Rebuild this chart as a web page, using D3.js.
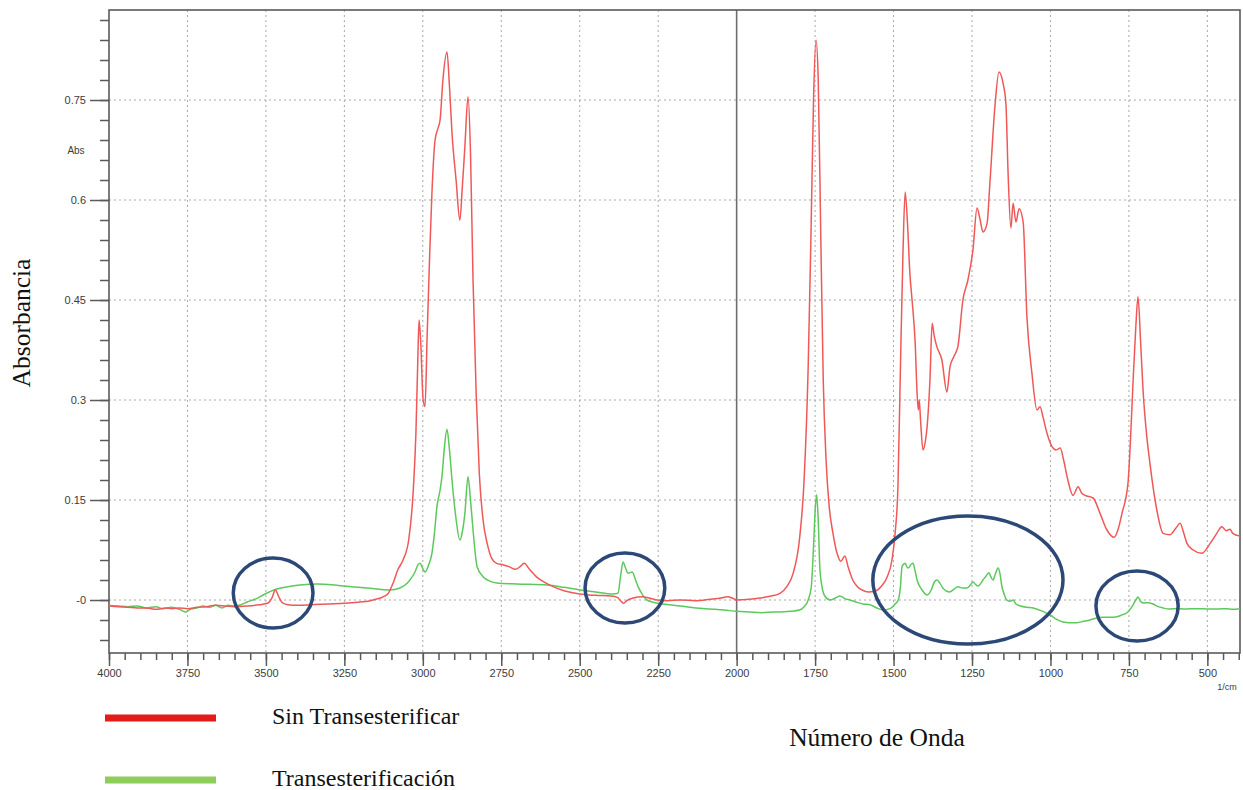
<!DOCTYPE html>
<html>
<head>
<meta charset="utf-8">
<script src="https://cdn.jsdelivr.net/npm/d3@7"></script>
<style>
  html, body { margin: 0; padding: 0; background: #ffffff; }
  svg { display: block; }
</style>
</head>
<body>
<svg id="chart" width="1243" height="790"></svg>
<script>
// ---------------- DATA ----------------
const seriesNames = ["Sin Transesterificar", "Transesterificación"];

// [wavenumber (1/cm), absorbance]
const sinTransesterificar = [
  [4000,-0.009],[3970,-0.010],[3940,-0.011],[3910,-0.012],[3880,-0.012],[3850,-0.014],[3820,-0.012],
  [3800,-0.013],[3775,-0.012],[3750,-0.013],[3720,-0.011],[3690,-0.010],[3660,-0.008],[3630,-0.009],
  [3600,-0.010],[3560,-0.009],[3520,-0.007],[3495,-0.005],[3480,0.004],[3470,0.015],[3460,0.006],
  [3448,-0.004],[3430,-0.007],[3400,-0.008],[3350,-0.007],[3300,-0.006],[3250,-0.005],[3200,-0.003],
  [3175,-0.002],[3150,0.001],[3125,0.005],[3110,0.010],[3095,0.025],[3080,0.045],[3063,0.06],
  [3045,0.09],[3031,0.16],[3022,0.25],[3016,0.36],[3012,0.42],[3007,0.39],[2999,0.30],[2993,0.29],
  [2986,0.40],[2978,0.52],[2971,0.61],[2961,0.69],[2950,0.71],[2945,0.72],[2936,0.78],[2923,0.822],
  [2915,0.77],[2907,0.70],[2894,0.63],[2882,0.57],[2874,0.62],[2866,0.68],[2856,0.755],[2848,0.67],
  [2840,0.48],[2830,0.31],[2820,0.19],[2808,0.12],[2795,0.085],[2780,0.062],[2765,0.055],[2745,0.053],
  [2725,0.05],[2705,0.046],[2690,0.05],[2677,0.055],[2660,0.046],[2636,0.034],[2610,0.026],[2585,0.02],
  [2550,0.014],[2500,0.009],[2450,0.007],[2400,0.006],[2380,0.004],[2368,-0.002],[2360,-0.005],
  [2350,-0.001],[2330,0.003],[2300,0.005],[2280,0.003],[2254,0.0],[2220,-0.001],[2180,0.0],
  [2130,-0.001],[2085,0.001],[2050,0.003],[2030,0.005],[2010,0.002],[2000,0.0],[1960,0.001],
  [1925,0.003],[1890,0.006],[1862,0.01],[1840,0.02],[1820,0.04],[1800,0.09],[1785,0.18],[1772,0.35],
  [1763,0.55],[1755,0.75],[1747,0.84],[1740,0.78],[1732,0.55],[1724,0.33],[1715,0.21],[1705,0.14],
  [1693,0.10],[1680,0.07],[1668,0.058],[1655,0.066],[1645,0.05],[1630,0.03],[1615,0.02],[1600,0.015],
  [1580,0.012],[1560,0.013],[1540,0.02],[1520,0.035],[1505,0.06],[1495,0.10],[1486,0.17],[1478,0.35],
  [1470,0.52],[1463,0.612],[1455,0.56],[1448,0.49],[1441,0.45],[1431,0.385],[1425,0.31],[1421,0.285],
  [1418,0.30],[1414,0.27],[1406,0.225],[1398,0.24],[1393,0.26],[1384,0.33],[1377,0.415],[1370,0.395],
  [1362,0.38],[1346,0.36],[1330,0.312],[1320,0.35],[1308,0.365],[1295,0.38],[1279,0.45],[1263,0.48],
  [1247,0.525],[1234,0.588],[1224,0.57],[1215,0.552],[1202,0.565],[1193,0.625],[1177,0.74],[1164,0.792],
  [1151,0.775],[1142,0.745],[1135,0.64],[1126,0.558],[1119,0.595],[1110,0.567],[1100,0.587],[1087,0.567],
  [1075,0.425],[1059,0.34],[1043,0.285],[1033,0.29],[1024,0.275],[1011,0.25],[995,0.23],[982,0.225],
  [969,0.228],[958,0.21],[947,0.185],[928,0.157],[912,0.17],[900,0.16],[890,0.157],[864,0.153],
  [842,0.13],[820,0.105],[797,0.094],[785,0.105],[772,0.13],[753,0.175],[745,0.24],[737,0.325],
  [728,0.41],[721,0.455],[713,0.39],[705,0.315],[694,0.25],[683,0.205],[661,0.135],[641,0.1],
  [619,0.098],[600,0.108],[587,0.115],[575,0.1],[565,0.085],[545,0.075],[518,0.07],[491,0.085],
  [470,0.1],[454,0.11],[440,0.104],[428,0.106],[419,0.1],[396,0.096]
];

const transesterificacion = [
  [4000,-0.008],[3970,-0.009],[3940,-0.010],[3910,-0.009],[3880,-0.012],[3850,-0.010],[3830,-0.013],
  [3800,-0.011],[3775,-0.014],[3755,-0.018],[3745,-0.015],[3720,-0.012],[3700,-0.009],[3680,-0.011],
  [3660,-0.008],[3640,-0.012],[3620,-0.008],[3600,-0.009],[3580,-0.007],[3560,-0.003],[3530,0.002],
  [3509,0.0075],[3465,0.0165],[3430,0.02],[3391,0.0225],[3337,0.024],[3290,0.023],[3254,0.021],
  [3178,0.018],[3105,0.015],[3073,0.018],[3050,0.025],[3041,0.03],[3025,0.042],[3015,0.053],
  [3009,0.055],[2999,0.046],[2993,0.042],[2982,0.052],[2971,0.07],[2963,0.10],[2955,0.14],[2945,0.165],
  [2939,0.185],[2931,0.23],[2923,0.256],[2915,0.225],[2907,0.18],[2895,0.125],[2882,0.09],[2873,0.105],
  [2866,0.13],[2856,0.185],[2848,0.15],[2840,0.105],[2827,0.05],[2808,0.035],[2785,0.028],[2764,0.0255],
  [2700,0.024],[2604,0.0225],[2550,0.019],[2499,0.015],[2450,0.012],[2394,0.009],[2378,0.010],
  [2370,0.035],[2362,0.057],[2354,0.048],[2346,0.04],[2333,0.042],[2322,0.03],[2314,0.02],[2300,0.008],
  [2286,0.0],[2260,-0.004],[2235,-0.006],[2180,-0.009],[2130,-0.012],[2085,-0.0135],[2040,-0.015],
  [2000,-0.017],[1960,-0.018],[1920,-0.019],[1880,-0.018],[1862,-0.018],[1830,-0.017],[1800,-0.015],
  [1785,-0.01],[1772,0.0],[1762,0.02],[1755,0.08],[1749,0.14],[1745,0.158],[1740,0.12],[1735,0.05],
  [1728,0.02],[1719,0.006],[1702,0.0],[1685,0.003],[1671,0.006],[1655,0.002],[1639,0.0],[1620,-0.003],
  [1597,-0.006],[1575,-0.007],[1553,-0.012],[1533,-0.015],[1511,-0.013],[1495,-0.006],[1485,0.0],
  [1478,0.02],[1473,0.05],[1463,0.055],[1458,0.05],[1453,0.048],[1443,0.054],[1438,0.055],[1432,0.045],
  [1425,0.03],[1409,0.015],[1393,0.0075],[1380,0.015],[1370,0.027],[1362,0.03],[1352,0.025],[1343,0.018],
  [1321,0.012],[1308,0.016],[1295,0.02],[1280,0.018],[1266,0.018],[1256,0.022],[1247,0.027],[1240,0.024],
  [1231,0.021],[1215,0.03],[1205,0.036],[1196,0.041],[1190,0.035],[1183,0.03],[1175,0.04],[1167,0.048],
  [1161,0.04],[1155,0.021],[1147,0.008],[1139,0.0],[1129,-0.002],[1119,0.0],[1110,-0.006],[1095,-0.009],
  [1075,-0.011],[1055,-0.012],[1030,-0.016],[1001,-0.0225],[980,-0.029],[960,-0.033],[940,-0.034],
  [916,-0.034],[895,-0.032],[874,-0.03],[853,-0.027],[833,-0.026],[810,-0.026],[788,-0.025],[770,-0.022],
  [757,-0.0195],[740,-0.01],[728,0.0],[721,0.0045],[713,-0.002],[705,-0.0045],[690,-0.004],[673,-0.006],
  [657,-0.01],[641,-0.012],[620,-0.0135],[600,-0.013],[570,-0.0135],[540,-0.013],[523,-0.013],
  [500,-0.0135],[470,-0.0135],[440,-0.013],[420,-0.014],[396,-0.013]
];

// axis ticks
const xMajorTicks = [4000,3750,3500,3250,3000,2750,2500,2250,2000,1750,1500,1250,1000,750,500];
const xTickLabels = ["4000","3750","3500","3250","3000","2750","2500","2250","2000","1750","1500","1250","1000","750","500"];
const yMajorTicks = [0.75,0.6,0.45,0.3,0.15,0];
const yTickLabels = ["0.75","0.6","0.45","0.3","0.15","-0"];

// highlighted regions: [center wavenumber, center absorbance, half-width (1/cm), half-height (abs)]
const highlightRegions = [
  [3477, 0.0105, 127, 0.0525],
  [2356, 0.018, 127, 0.0525],
  [1263, 0.030, 303, 0.096],
  [724, -0.009, 131, 0.0525]
];

// ---------------- CHART ----------------
const svg = d3.select("#chart");
const plot = {left: 109, top: 10, right: 1240, bottom: 653};

const x = d3.scaleLinear().domain([4000, 396]).range([plot.left, plot.right]);
const y = d3.scaleLinear().domain([-0.0795, 0.885]).range([plot.bottom, plot.top]);

const colors = {
  red: "#f05858",
  green: "#5cc95c",
  legendRed: "#e41b1b",
  legendGreen: "#8fcd5a",
  ellipse: "#2c4876",
  axis: "#5a5a5a",
  grid: "#a8a8a8",
  tickText: "#3c3c3c"
};

// gridlines
const g = svg.append("g");
g.selectAll(".vgrid").data(xMajorTicks.filter(d => d !== 4000 && d !== 2000)).enter()
  .append("line")
  .attr("x1", d => x(d)).attr("x2", d => x(d))
  .attr("y1", plot.top).attr("y2", plot.bottom)
  .attr("stroke", colors.grid).attr("stroke-width", 1)
  .attr("stroke-dasharray", "2,3");
g.selectAll(".hgrid").data(yMajorTicks).enter()
  .append("line")
  .attr("x1", plot.left).attr("x2", plot.right)
  .attr("y1", d => y(d)).attr("y2", d => y(d))
  .attr("stroke", colors.grid).attr("stroke-width", 1)
  .attr("stroke-dasharray", "2,3");

// solid line at 2000
g.append("line")
  .attr("x1", x(2000)).attr("x2", x(2000))
  .attr("y1", plot.top).attr("y2", plot.bottom)
  .attr("stroke", "#6e6e6e").attr("stroke-width", 1.6);

// axes
const xMinor = d3.range(4000, 395, -50);
const yMinor = d3.range(-2, 30).map(i => +(i * 0.03).toFixed(2)).filter(v => v <= 0.875);

const xAxisMinor = d3.axisBottom(x).tickValues(xMinor).tickSize(7).tickFormat("");
const xAxisMajor = d3.axisBottom(x).tickValues(xMajorTicks).tickSize(13)
  .tickFormat((d, i) => xTickLabels[i]).tickPadding(3);
const yAxisMinor = d3.axisLeft(y).tickValues(yMinor).tickSize(9).tickFormat("");
const yAxisMajor = d3.axisLeft(y).tickValues(yMajorTicks).tickSize(19)
  .tickFormat((d, i) => yTickLabels[i]).tickPadding(4);

function styleAxis(sel) {
  sel.select(".domain").remove();
  sel.selectAll(".tick line").attr("stroke", colors.axis).attr("stroke-width", 1.5);
  sel.selectAll(".tick text").attr("fill", colors.tickText)
    .style("font-family", "'Liberation Sans', Arial, sans-serif").style("font-size", "11px");
}
svg.append("g").attr("transform", `translate(0,${plot.bottom})`).call(xAxisMinor).call(styleAxis);
svg.append("g").attr("transform", `translate(0,${plot.bottom})`).call(xAxisMajor).call(styleAxis);
svg.append("g").attr("transform", `translate(${plot.left},0)`).call(yAxisMinor).call(styleAxis);
svg.append("g").attr("transform", `translate(${plot.left},0)`).call(yAxisMajor).call(styleAxis);

// frame
svg.append("rect")
  .attr("x", plot.left).attr("y", plot.top)
  .attr("width", plot.right - plot.left).attr("height", plot.bottom - plot.top)
  .attr("fill", "none").attr("stroke", colors.axis).attr("stroke-width", 1.6);

// small axis texts
svg.append("text").attr("x", 76).attr("y", 154).attr("text-anchor", "middle")
  .attr("fill", colors.tickText)
  .style("font-family", "'Liberation Sans', Arial, sans-serif").style("font-size", "10px")
  .text("Abs");
svg.append("text").attr("x", 1227).attr("y", 690).attr("text-anchor", "middle")
  .attr("fill", colors.tickText)
  .style("font-family", "'Liberation Sans', Arial, sans-serif").style("font-size", "9px")
  .text("1/cm");

// lines
const line = d3.line().x(d => x(d[0])).y(d => y(d[1])).curve(d3.curveMonotoneX);
svg.append("clipPath").attr("id", "clip").append("rect")
  .attr("x", plot.left).attr("y", plot.top)
  .attr("width", plot.right - plot.left).attr("height", plot.bottom - plot.top);
const lines = svg.append("g").attr("clip-path", "url(#clip)");
lines.append("path").datum(transesterificacion).attr("d", line)
  .attr("fill", "none").attr("stroke", colors.green).attr("stroke-width", 1.5)
  .attr("stroke-linejoin", "round");
lines.append("path").datum(sinTransesterificar).attr("d", line)
  .attr("fill", "none").attr("stroke", colors.red).attr("stroke-width", 1.5)
  .attr("stroke-linejoin", "round");

// highlight ellipses
svg.append("g").selectAll("ellipse").data(highlightRegions).enter()
  .append("ellipse")
  .attr("cx", d => x(d[0]))
  .attr("cy", d => y(d[1]))
  .attr("rx", d => Math.abs(x(d[0] + d[2]) - x(d[0])))
  .attr("ry", d => Math.abs(y(d[1] + d[3]) - y(d[1])))
  .attr("fill", "none").attr("stroke", colors.ellipse).attr("stroke-width", 3.5);

// axis titles
const serif = "'Liberation Serif', 'Times New Roman', serif";
svg.append("text")
  .attr("transform", "translate(30,323) rotate(-90)")
  .attr("text-anchor", "middle").attr("fill", "#111")
  .style("font-family", serif).style("font-size", "25.5px")
  .text("Absorbancia");
svg.append("text")
  .attr("x", 877).attr("y", 746).attr("text-anchor", "middle").attr("fill", "#111")
  .style("font-family", serif).style("font-size", "25.5px")
  .text("Número de Onda");

// legend
const legend = svg.append("g");
const legendItems = [
  {name: seriesNames[0], color: colors.legendRed, y: 718},
  {name: seriesNames[1], color: colors.legendGreen, y: 780}
];
legendItems.forEach(it => {
  legend.append("line").attr("x1", 105).attr("x2", 216).attr("y1", it.y).attr("y2", it.y)
    .attr("stroke", it.color).attr("stroke-width", 7);
  legend.append("text").attr("x", 272).attr("y", it.y + 6).attr("fill", "#111")
    .style("font-family", serif).style("font-size", "24px").text(it.name);
});
</script>
</body>
</html>
